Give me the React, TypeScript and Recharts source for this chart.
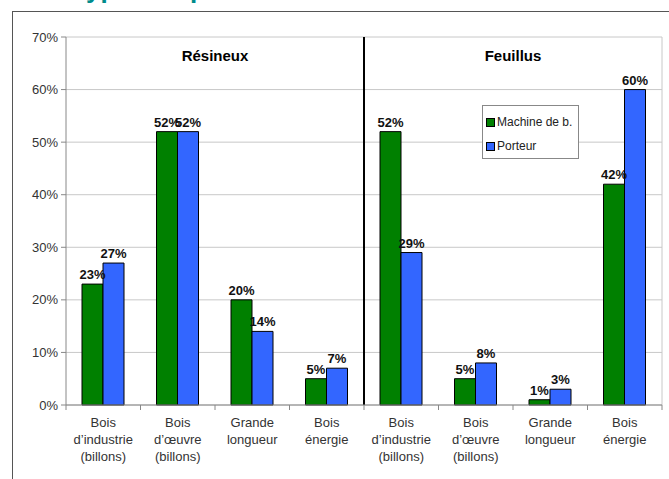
import {
  Bar,
  BarChart,
  CartesianGrid,
  LabelList,
  ReferenceLine,
  XAxis,
  YAxis,
} from "recharts";

// Share of volume by product type, for each logging method
const categories = [
  "Bois\nd\u2019industrie\n(billons)",
  "Bois\nd\u2019\u0153uvre\n(billons)",
  "Grande\nlongueur",
  "Bois\n\u00e9nergie",
  "Bois\nd\u2019industrie\n(billons)",
  "Bois\nd\u2019\u0153uvre\n(billons)",
  "Grande\nlongueur",
  "Bois\n\u00e9nergie",
];
const machine = [0.23, 0.52, 0.2, 0.05, 0.52, 0.05, 0.01, 0.42];
const porteur = [0.27, 0.52, 0.14, 0.07, 0.29, 0.08, 0.03, 0.6];
const yTicks = [0, 0.1, 0.2, 0.3, 0.4, 0.5, 0.6, 0.7];
// group titles sit on the boundary before category index `at`
const groups = [
  { name: "R\u00e9sineux", at: 2 },
  { name: "Feuillus", at: 6 },
];
const legendItems = ["Machine de b.", "Porteur"];

const FONT = "'Liberation Sans', Arial, sans-serif";
const GREEN = "#008000";
const BLUE = "#3366ff";
const legendColors = [GREEN, BLUE];

const data = categories.map((c, i) => ({
  key: i,
  cat: c,
  machine: machine[i],
  porteur: porteur[i],
}));

const pct = (v: number) => `${Math.round(v * 100)}%`;

// tick label plus Excel-style tick marks between categories
function CatTick(props: any) {
  const { x, y, payload, index } = props;
  const half = payload.offset ?? 0;
  const lines = String(categories[payload.index ?? index] ?? "").split("\n");
  const axisY = y - 8;
  const isLast = (payload.index ?? index) === categories.length - 1;
  return (
    <g>
      <line x1={x - half} x2={x - half} y1={axisY} y2={axisY + 5} stroke="#888" />
      {isLast && (
        <line x1={x + half} x2={x + half} y1={axisY} y2={axisY + 5} stroke="#888" />
      )}
      <text
        x={x}
        y={y}
        textAnchor="middle"
        fontFamily={FONT}
        fontSize={13}
        fill="#333"
      >
        {lines.map((l, i) => (
          <tspan key={i} x={x} dy={i === 0 ? 14 : 17}>
            {l}
          </tspan>
        ))}
      </text>
    </g>
  );
}

function LegendBox() {
  return (
    <div
      style={{
        position: "absolute",
        left: 482,
        top: 105,
        border: "1px solid #888",
        background: "#fff",
        width: 97,
        height: 54,
        fontFamily: FONT,
        fontSize: 12,
        color: "#222",
        boxSizing: "border-box",
        paddingTop: 4,
      }}
    >
      {legendItems.map((label, i) => (
        <div
          key={label}
          style={{ display: "flex", alignItems: "center", height: 24, paddingLeft: 3 }}
        >
          <span
            style={{
              width: 7,
              height: 7,
              background: legendColors[i],
              border: "1px solid #000",
              marginRight: 2,
              display: "inline-block",
            }}
          />
          {label}
        </div>
      ))}
    </div>
  );
}

export default function App() {
  return (
    <div
      style={{
        position: "absolute",
        left: 0,
        top: 0,
        width: 669,
        height: 479,
        overflow: "hidden",
        background: "#fff",
      }}
    >
      <div
        style={{
          position: "absolute",
          left: 0,
          top: 0,
          width: 669,
          height: 5,
          overflow: "hidden",
        }}
      >
        <div
          style={{
            position: "absolute",
            left: 72,
            top: -26,
            fontFamily: FONT,
            fontWeight: "bold",
            fontSize: 26,
            color: "#008b8b",
            whiteSpace: "nowrap",
          }}
        >
          Types de produits
        </div>
      </div>
      <div
        style={{
          position: "absolute",
          left: 12,
          top: 11,
          width: 680,
          height: 500,
          borderTop: "1px solid #555",
          borderLeft: "1px solid #555",
        }}
      />
      <div style={{ position: "absolute", left: 0, top: 0 }}>
        <BarChart
          width={669}
          height={479}
          data={data}
          margin={{ top: 37, right: 7, bottom: 0, left: 0 }}
          barGap={0}
          barSize={21}
        >
          <CartesianGrid vertical={false} stroke="#c8c8c8" />
          <XAxis
            dataKey="key"
            type="category"
            tick={<CatTick />}
            tickLine={false}
            tickSize={6}
            tickMargin={2}
            axisLine={{ stroke: "#888" }}
            interval={0}
            height={74}
          />
          <YAxis
            domain={[0, 0.7]}
            ticks={yTicks}
            tickFormatter={pct}
            width={66}
            tickSize={5}
            tickMargin={3}
            axisLine={{ stroke: "#888" }}
            tickLine={{ stroke: "#888" }}
            tick={{ fontFamily: FONT, fontSize: 13, fill: "#333" }}
          />
          <ReferenceLine
            x={categories.length - 1}
            position="end"
            stroke="#c8c8c8"
          />
          <ReferenceLine
            x={4}
            position="start"
            stroke="#000"
            strokeWidth={2}
            ifOverflow="visible"
          />
          {groups.map((g) => (
            <ReferenceLine
              key={g.name}
              x={g.at}
              position="start"
              stroke="none"
              label={{
                value: g.name,
                position: "insideTop",
                offset: 13,
                fontFamily: FONT,
                fontSize: 15,
                fontWeight: "bold",
                fill: "#000",
              }}
            />
          ))}
          <Bar
            dataKey="machine"
            name="Machine de b."
            fill={GREEN}
            stroke="#000"
            strokeWidth={1}
            isAnimationActive={false}
          >
            <LabelList
              dataKey="machine"
              position="top"
              formatter={(v: any) => pct(Number(v))}
              style={{ fontFamily: FONT, fontSize: 13, fontWeight: "bold", fill: "#111" }}
            />
          </Bar>
          <Bar
            dataKey="porteur"
            name="Porteur"
            fill={BLUE}
            stroke="#000"
            strokeWidth={1}
            isAnimationActive={false}
          >
            <LabelList
              dataKey="porteur"
              position="top"
              formatter={(v: any) => pct(Number(v))}
              style={{ fontFamily: FONT, fontSize: 13, fontWeight: "bold", fill: "#111" }}
            />
          </Bar>
        </BarChart>
      </div>
      <LegendBox />
    </div>
  );
}
